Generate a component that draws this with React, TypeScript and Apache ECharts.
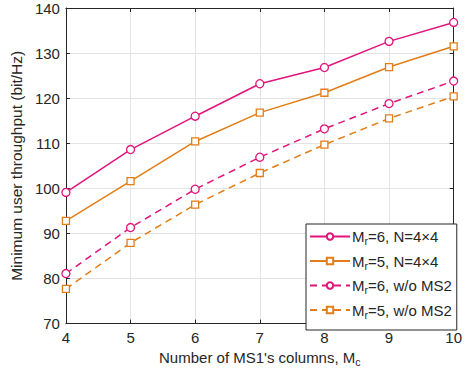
import React, { useEffect, useRef } from "react";
import * as echarts from "echarts";

const xValues = [4, 5, 6, 7, 8, 9, 10];
const mr6N4 = [99.1, 108.6, 116.0, 123.2, 126.8, 132.6, 136.8];
const mr5N4 = [92.8, 101.6, 110.4, 116.8, 121.2, 126.9, 131.5];
const mr6NoMS2 = [81.1, 91.3, 99.8, 106.9, 113.2, 118.8, 123.8];
const mr5NoMS2 = [77.7, 87.9, 96.4, 103.4, 109.7, 115.5, 120.4];

const seriesNames = ["Mr=6, N=4x4", "Mr=5, N=4x4", "Mr=6, w/o MS2", "Mr=5, w/o MS2"];
const legendLabels: Record<string, string> = {
  "Mr=6, N=4x4": "M{sub|r}=6, N=4×4",
  "Mr=5, N=4x4": "M{sub|r}=5, N=4×4",
  "Mr=6, w/o MS2": "M{sub|r}=6, w/o MS2",
  "Mr=5, w/o MS2": "M{sub|r}=5, w/o MS2",
};

const MAGENTA = "#e0147b";
const ORANGE = "#e37d17";
const AX = "#262626";
const GRID = "#e3e3e3";
const FONT = "'Liberation Sans', Arial, sans-serif";

const pairs = (ys: number[]) => xValues.map((x, i) => [x, ys[i]]);

export default function App() {
  const ref = useRef<HTMLDivElement>(null);
  useEffect(() => {
    if (!ref.current) return;
    const chart = echarts.init(ref.current, null, { renderer: "svg" });
    const mk = (name: string, data: number[], color: string, symbol: string, dashed: boolean) => ({
      name,
      type: "line",
      data: pairs(data),
      symbol,
      symbolSize: symbol === "circle" ? 8 : 7,
      showAllSymbol: true,
      itemStyle: { color: "#fff", borderColor: color, borderWidth: 1.3 },
      lineStyle: { color, width: 1.5, type: dashed ? [7, 5] : "solid" },
      emphasis: { disabled: true },
      z: 3,
    });
    const sub = { fontSize: 10.5, padding: [9, 0, 0, 0], fontFamily: FONT, color: AX };
    chart.setOption({
      animation: false,
      textStyle: { fontFamily: FONT },
      grid: { left: 54, right: 9, top: 8, bottom: 46, containLabel: false },
      xAxis: [
        {
          type: "value",
          min: 4,
          max: 10,
          interval: 1,
          position: "bottom",
          axisLine: { show: true, onZero: false, lineStyle: { color: AX, width: 1 } },
          axisTick: { show: true, inside: true, length: 4, lineStyle: { color: AX } },
          splitLine: { show: true, lineStyle: { color: GRID, width: 1 } },
          axisLabel: { fontSize: 15, color: AX, margin: 6, fontFamily: FONT },
          name: "Number of MS1's columns, M{sub|c}",
          nameLocation: "middle",
          nameGap: 20,
          nameTextStyle: { fontSize: 15, color: AX, fontFamily: FONT, rich: { sub } },
        },
        {
          type: "value",
          min: 4,
          max: 10,
          interval: 1,
          position: "top",
          axisLine: { show: true, onZero: false, lineStyle: { color: AX, width: 1 } },
          axisTick: { show: true, inside: true, length: 4, lineStyle: { color: AX } },
          splitLine: { show: false },
          axisLabel: { show: false },
        },
      ],
      yAxis: [
        {
          type: "value",
          min: 70,
          max: 140,
          interval: 10,
          position: "left",
          axisLine: { show: true, onZero: false, lineStyle: { color: AX, width: 1 } },
          axisTick: { show: true, inside: true, length: 4, lineStyle: { color: AX } },
          splitLine: { show: true, lineStyle: { color: GRID, width: 1 } },
          axisLabel: { fontSize: 15, color: AX, margin: 6, fontFamily: FONT },
          name: "Minimum user throughput (bit/Hz)",
          nameLocation: "middle",
          nameGap: 39,
          nameTextStyle: { fontSize: 15.5, color: AX, fontFamily: FONT },
        },
        {
          type: "value",
          min: 70,
          max: 140,
          interval: 10,
          position: "right",
          axisLine: { show: true, onZero: false, lineStyle: { color: AX, width: 1 } },
          axisTick: { show: true, inside: true, length: 4, lineStyle: { color: AX } },
          splitLine: { show: false },
          axisLabel: { show: false },
        },
      ],
      legend: {
        data: seriesNames,
        orient: "vertical",
        left: 306,
        top: 224,
        padding: [5, 5, 10, 3],
        itemGap: 7,
        itemWidth: 40,
        itemHeight: 8,
        backgroundColor: "#fff",
        borderColor: AX,
        borderWidth: 1,
        borderRadius: 0,
        selectedMode: false,
        formatter: (n: string) => legendLabels[n] ?? n,
        textStyle: { fontSize: 15, color: AX, fontFamily: FONT, padding: [0, 0, 0, -3], rich: { sub } },
      },
      series: [
        mk(seriesNames[0], mr6N4, MAGENTA, "circle", false),
        mk(seriesNames[1], mr5N4, ORANGE, "rect", false),
        mk(seriesNames[2], mr6NoMS2, MAGENTA, "circle", true),
        mk(seriesNames[3], mr5NoMS2, ORANGE, "rect", true),
      ],
    });
    return () => chart.dispose();
  }, []);
  return (
    <div
      ref={ref}
      style={{ position: "fixed", left: 0, top: 0, width: 465, height: 372, background: "#fff" }}
    />
  );
}
